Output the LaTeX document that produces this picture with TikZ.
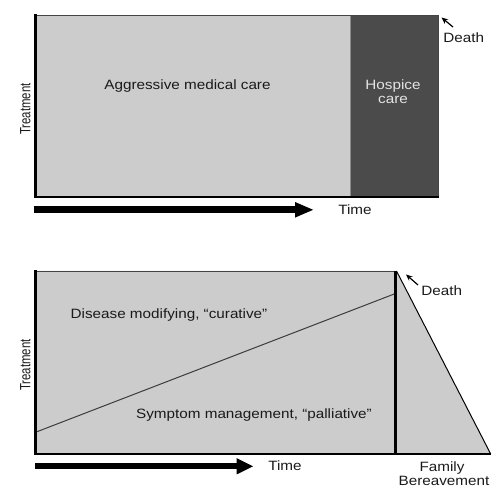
\documentclass[tikz,border=0pt]{standalone}
\usepackage{fontspec}
\setmainfont[FakeStretch=1.13]{Liberation Sans}
\usetikzlibrary{arrows.meta}
\definecolor{lightfill}{HTML}{CCCCCC}
\definecolor{darkfill}{HTML}{4B4B4B}
\definecolor{ink}{HTML}{1A1A1A}
\definecolor{edgegray}{HTML}{444444}
\definecolor{divgray}{HTML}{8C8C8C}
\definecolor{hospicetext}{HTML}{E4E4E4}
\begin{document}
\begin{tikzpicture}[x=1pt,y=-1pt,
  lbl/.style={font=\fontsize{13.5}{14}\selectfont, text=ink, inner sep=0pt, anchor=base},
  ylbl/.style={font=\fontsize{13.5}{14}\selectfont, text=ink, inner sep=0pt, anchor=base, rotate=90},
  timearrow/.style={line width=7pt, -{Triangle[length=19pt,width=14pt]}},
  timearrowb/.style={line width=6pt, -{Triangle[length=17pt,width=15pt]}},
  deatharrow/.style={line width=1.2pt, -{Stealth[length=6.5pt,width=5.5pt]}},
  thinedge/.style={line width=1pt, color=edgegray},
]
\useasboundingbox (0,0) rectangle (504,494);

% ---------- top panel ----------
\fill[lightfill] (35,15) rectangle (350,197);
\fill[darkfill] (351,15) rectangle (438,197);
\draw[line width=1.5pt, divgray] (350.5,15) -- (350.5,196);
\draw[thinedge] (35,15.5) -- (438,15.5) -- (438,197);
\draw[line width=3pt] (35.8,14.5) -- (35.8,198.3);
\draw[line width=2.6pt] (34.3,197) -- (438.5,197);

\node[lbl] (amc) at (187.5,89.3) {Aggressive medical care};
\node[lbl, text=hospicetext] (hosp1) at (393,90) {Hospice};
\node[lbl, text=hospicetext] (hosp2) at (393,104) {care};
\node[ylbl] (treat1) at (30.5,109.2) {\scalebox{0.748}[1.1]{Treatment}};

\coordinate (t1s) at (34.3,209.8);
\coordinate (t1e) at (314,209.8);
\draw[timearrow] (t1s) -- (t1e);
\node[lbl] (time1) at (355,215) {Time};

\node[lbl] (death1) at (463.7,43) {Death};
\coordinate (d1tail) at (453,27);
\coordinate (d1tip) at (441.5,17.5);
\draw[deatharrow] (d1tail) -- (d1tip);

% ---------- bottom panel ----------
\fill[lightfill] (35,271) -- (396,271) -- (490.7,454) -- (35,454) -- cycle;
\draw[thinedge] (35,271.5) -- (396,271.5);
\draw[line width=1pt] (396.5,271) -- (490.7,454);
\coordinate (diagA) at (37,431.7);
\coordinate (diagB) at (395,293.7);
\draw[line width=1pt, ink!85] (diagA) -- (diagB);
\draw[line width=2.5pt] (395.5,271) -- (395.5,454);
\draw[line width=3pt] (35.8,270.5) -- (35.8,455);
\draw[line width=2pt] (34.3,454) -- (491,454);

\node[lbl] (dis) at (169,319) {Disease modifying, “curative”};
\node[lbl] (sym) at (254,419) {Symptom management, “palliative”};
\node[ylbl] (treat2) at (30.5,365) {\scalebox{0.748}[1.1]{Treatment}};

\coordinate (t2s) at (35,466.3);
\coordinate (t2e) at (253.5,466.3);
\draw[timearrowb] (t2s) -- (t2e);
\node[lbl] (time2) at (285,471) {Time};

\node[lbl] (death2) at (441.7,296) {Death};
\coordinate (d2tail) at (418,285);
\coordinate (d2tip) at (406,274.5);
\draw[deatharrow] (d2tail) -- (d2tip);

\node[lbl] (fam) at (442,471.7) {Family};
\node[lbl] (ber) at (444,485.7) {Bereavement};
\end{tikzpicture}
\end{document}
